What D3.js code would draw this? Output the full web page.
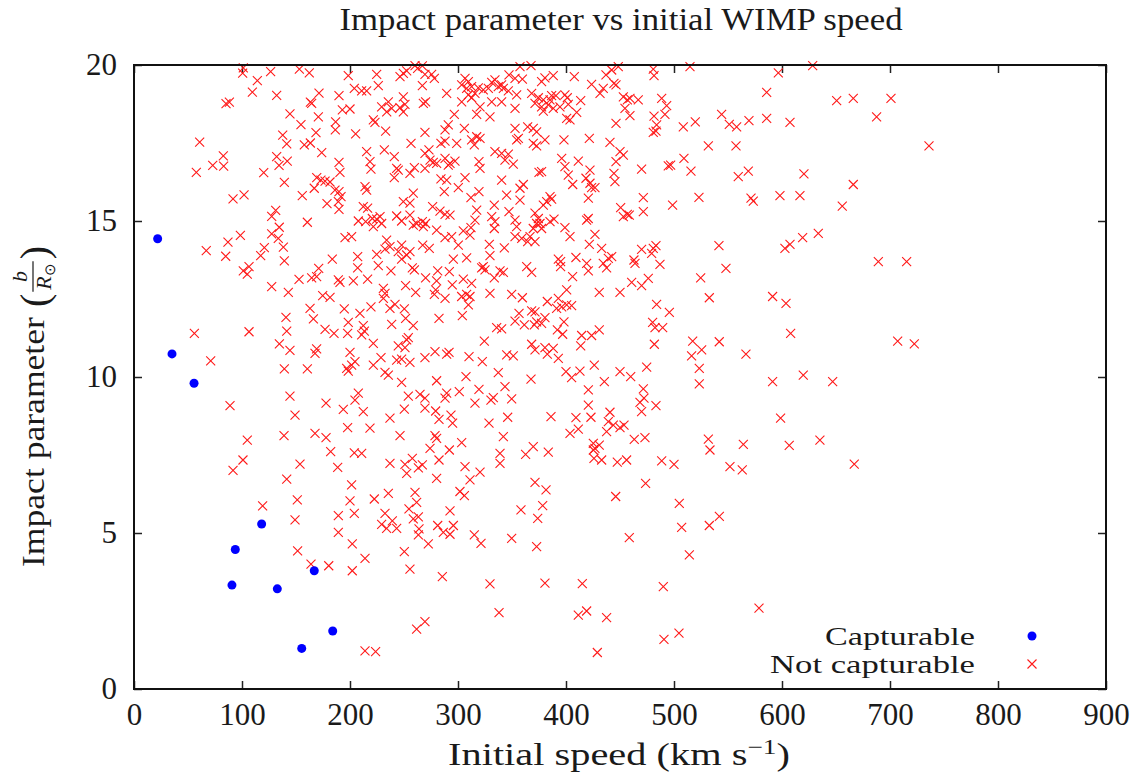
<!DOCTYPE html>
<html>
<head>
<meta charset="utf-8">
<script src="https://cdn.jsdelivr.net/npm/d3@7"></script>
<style>
  body { margin: 0; background: #fff; }
  svg { display: block; }
  text { font-family: "Liberation Serif", "Times New Roman", serif; fill: #1a1a1a; }
</style>
</head>
<body>
<svg id="chart" width="1142" height="778"></svg>
<script>
// ---- data -------------------------------------------------------------
const xTicks = [0, 100, 200, 300, 400, 500, 600, 700, 800, 900];
const yTicks = [0, 5, 10, 15, 20];
const seriesNames = ["Capturable", "Not capturable"];

// captured WIMPs: initial speed (km/s) and impact parameter (b / R_sun)
const capturableSpeed  = [21.9, 35.2, 55.6, 118.2, 93.8, 90.7, 132.7, 166.9, 184.0, 155.3];
const capturableImpact = [14.43, 10.74, 9.80, 5.29, 4.47, 3.33, 3.21, 3.79, 1.86, 1.30];

// escaping WIMPs: [initial speed, impact parameter]
const notCapturable = [
[101.2,19.91],[100.6,19.74],[126.5,19.79],[153.1,19.87],[162.3,19.75],[114.2,19.50],[109.6,19.13],[132.1,19.03],[171.3,19.10],[85.2,18.76],[88.3,18.81],[164.5,18.77],[163.3,18.81],[144.4,18.43],[170.7,18.34],[154.6,18.09],[186.7,18.18],[186.4,17.92],[168.5,17.83],[137.7,17.75],[141.4,17.47],[157.7,17.44],[163.3,17.50],[60.8,17.53],[173.8,17.19],[82.7,17.09],[72.9,16.78],[83.0,16.76],[132.1,17.06],[134.3,16.78],[141.9,16.92],[57.7,16.56],[120.1,16.55],[139.2,16.24],[169.2,16.39],[173.1,16.31],[176.9,16.28],[181.5,16.25],[166.9,16.05],[186.1,15.99],[91.7,15.71],[101.9,15.84],[155.8,15.81],[178.7,15.56],[131.2,15.34],[127.5,15.15],[160.5,14.96],[134.5,14.80],[98.5,14.54],[127.5,14.59],[133.6,14.44],[87.0,14.32],[138.3,14.16],[120.7,14.15],[117.3,13.89],[66.9,14.05],[84.9,13.87],[139.2,13.72],[183.6,13.78],
[260.2,19.98],[267.0,19.97],[262.6,19.89],[198.4,19.66],[224.7,19.70],[246.3,19.63],[249.4,19.73],[252.5,19.81],[275.6,19.70],[278.1,19.57],[269.4,19.70],[306.5,19.57],[309.6,19.47],[331.2,19.44],[334.2,19.52],[347.2,19.68],[352.8,19.57],[357.4,19.95],[367.6,19.98],[359.6,19.55],[204.0,19.25],[210.8,19.17],[215.4,19.17],[226.2,19.34],[267.0,19.34],[289.5,19.09],[303.4,19.36],[308.0,19.25],[312.6,19.31],[318.8,19.27],[323.4,19.20],[328.1,19.25],[309.6,19.04],[312.6,18.95],[315.7,19.09],[337.3,19.31],[342.0,19.25],[346.6,19.17],[354.3,19.04],[340.4,19.36],[368.2,19.09],[374.4,18.95],[189.8,19.02],[249.4,18.98],[235.5,18.82],[229.3,18.66],[234.0,18.50],[238.6,18.61],[246.3,18.63],[249.4,18.50],[250.9,18.74],[267.9,18.77],[270.0,18.82],[192.9,18.56],[200.0,18.59],[303.4,18.82],[320.4,18.66],[317.3,18.42],[329.6,18.34],[331.2,18.82],[340.4,18.82],[352.8,18.61],[371.3,18.77],[296.6,18.42],[221.6,18.24],[223.1,18.16],[291.0,18.08],[288.0,17.92],[305.9,17.97],[205.2,17.79],[233.0,17.88],[269.4,17.84],[352.8,17.97],[364.5,18.02],[369.7,17.97],[372.8,17.86],[256.5,17.49],[284.2,17.49],[288.0,17.56],[298.8,17.49],[312.6,17.60],[317.3,17.70],[320.4,17.65],[315.1,17.44],[354.3,17.60],[355.9,17.65],[369.7,17.49],[372.8,17.41],[215.4,17.22],[231.8,17.28],[241.0,17.06],[269.4,17.17],[273.1,17.28],[274.1,16.95],[277.1,16.88],[280.2,16.85],[288.0,17.01],[292.6,16.85],[297.2,16.92],[291.0,16.79],[319.4,16.90],[320.4,16.69],[334.2,17.22],[340.4,17.17],[346.6,17.14],[343.5,16.95],[351.2,16.82],[189.8,16.88],[218.5,16.90],[219.4,16.66],[243.2,16.69],[244.7,16.63],[241.0,16.39],[259.6,16.71],[255.5,16.53],[269.4,16.69],[375.0,16.56],[190.7,16.56],[284.2,16.35],[289.5,16.31],[306.5,16.39],[300.3,16.07],[340.4,16.31],[360.5,16.17],[357.4,16.05],[213.9,16.10],[215.4,15.99],[258.6,15.89],[287.3,15.94],[312.0,15.75],[319.4,15.94],[189.8,15.94],[191.7,15.78],[189.2,15.62],[212.3,15.46],[216.3,15.41],[249.4,15.62],[255.5,15.57],[189.8,15.37],[276.5,15.46],[283.3,15.32],[288.0,15.21],[292.6,15.19],[317.3,15.35],[333.6,15.51],[345.0,15.83],[357.4,15.67],[347.2,15.30],[331.2,15.14],[334.2,14.98],[333.6,14.76],[352.8,15.03],[354.3,14.82],[371.3,15.25],[374.4,15.08],[372.8,14.92],[369.7,14.76],[207.7,15.00],[214.5,14.98],[220.7,15.08],[224.7,15.06],[227.8,15.14],[229.3,14.92],[221.6,14.82],[243.2,15.16],[247.8,15.00],[258.6,14.87],[261.7,14.92],[267.0,14.98],[270.0,14.92],[267.9,14.82],[280.2,14.71],[255.5,15.19],[315.7,15.03],[312.0,14.79],[304.9,14.68],[311.1,14.55],[195.4,14.47],[201.5,14.50],[294.1,14.50],[288.0,14.47],[300.3,14.23],[352.8,14.50],[359.0,14.44],[366.7,14.50],[364.5,14.34],[233.9,14.39],[237.0,14.18],[244.7,14.02],[247.8,14.23],[252.5,13.91],[255.5,14.02],[267.3,14.23],[273.4,14.12],[329.0,14.25],[342.9,14.14],[371.3,14.34],[207.1,13.86],[224.7,13.93],[232.4,14.10],[247.8,13.78],[295.7,13.78],[308.0,13.82],[329.6,13.89],
[380.5,19.59],[388.2,19.66],[377.4,19.47],[407.7,19.63],[423.7,19.38],[434.5,19.25],[431.5,19.09],[437.0,19.68],[442.3,19.84],[448.4,19.95],[444.4,19.41],[446.3,19.36],[480.8,19.87],[481.5,19.66],[514.8,19.95],[386.7,19.02],[390.7,19.02],[385.2,18.88],[399.0,19.04],[401.2,18.95],[379.0,18.88],[377.4,18.66],[383.6,18.72],[388.2,18.61],[394.4,18.66],[402.1,18.74],[413.6,18.86],[409.9,18.48],[400.6,18.29],[403.7,18.24],[379.0,18.52],[453.1,18.98],[456.8,18.88],[459.2,18.93],[466.9,18.88],[454.6,18.61],[459.2,18.38],[446.3,18.13],[488.6,18.93],[493.2,18.70],[491.6,18.42],[481.5,18.36],[483.9,18.08],[480.8,17.84],[483.3,17.88],[508.6,18.02],[519.7,18.18],[544.1,18.42],[551.2,18.10],[558.0,18.02],[380.5,17.60],[398.1,17.60],[421.6,17.65],[440.7,17.52],[450.0,17.22],[453.1,17.11],[531.8,17.41],[557.4,17.41],[396.0,17.01],[399.0,16.74],[402.1,16.47],[406.2,16.17],[411.4,16.92],[422.2,16.63],[418.5,16.37],[422.2,16.21],[423.7,16.07],[426.8,16.07],[377.4,16.58],[446.3,16.90],[444.4,16.53],[445.3,16.26],[470.0,16.66],[494.7,16.77],[496.9,16.79],[509.2,17.01],[515.7,16.60],[559.5,16.42],[385.2,15.78],[386.7,15.70],[379.0,15.51],[382.1,15.62],[420.7,15.73],[471.6,15.75],[498.7,15.51],[523.1,15.76],[450.6,15.43],[453.1,15.14],[456.8,15.21],[458.6,15.19],[471.6,15.30],[419.1,15.03],[420.6,15.08],[385.2,14.98],[388.9,15.06],[375.9,14.92],[377.4,14.76],[399.0,14.79],[403.7,14.50],[426.8,14.57],[421.6,14.25],[433.0,14.12],[470.0,14.09],[480.8,14.12],[483.3,14.21],[479.3,13.96],[541.6,14.21],[392.9,13.78],[395.0,13.70],[409.2,13.83],[419.1,13.64],[434.5,13.64],[439.2,13.80],[442.3,13.86],[462.9,13.75],[463.9,13.64],[487.0,13.61],
[596.6,19.75],[628.4,19.98],[585.8,19.12],[650.6,18.86],[666.0,18.93],[700.9,18.93],[569.4,18.22],[585.8,18.29],[607.4,18.16],[687.6,18.34],[736.1,17.41],[568.8,16.60],[620.3,16.51],[666.0,16.17],[571.3,15.73],[573.4,15.64],[598.1,15.81],[616.6,15.81],[655.8,15.48],[633.6,14.60],[619.1,14.47],[607.4,14.25],[602.7,14.12],[689.2,13.70],[715.4,13.70],
[101.2,13.40],[104.9,13.30],[106.5,13.54],[127.5,12.90],[142.9,12.71],[152.8,13.13],[164.5,13.18],[169.1,13.22],[171.0,13.48],[174.7,12.61],[181.5,12.55],[163.0,12.20],[140.7,11.91],[166.1,11.86],[176.9,11.53],[185.2,11.40],[55.9,11.40],[106.5,11.45],[141.4,11.47],[134.6,11.06],[144.4,10.85],[169.1,10.90],[167.6,10.76],[71.0,10.52],[139.2,10.26],[160.5,10.26],[144.4,9.39],[177.8,9.16],[88.9,9.08],[149.1,8.78],[104.9,7.98],[138.9,8.12],[167.6,8.19],[177.8,8.06],[182.1,7.61],[153.7,7.21],[100.9,7.34],[91.7,7.01],
[207.1,13.50],[226.2,13.57],[237.9,13.40],[257.7,13.50],[259.6,13.43],[281.2,13.40],[292.0,13.38],[321.9,13.50],[325.0,13.43],[323.4,13.54],[338.9,13.40],[342.0,13.35],[363.6,13.54],[368.2,13.35],[189.2,13.11],[190.7,13.03],[203.1,13.08],[216.3,13.14],[270.0,13.18],[280.2,13.08],[279.3,12.79],[294.7,12.95],[304.9,13.14],[312.6,13.00],[333.6,13.18],[230.9,12.84],[232.4,12.68],[230.9,12.52],[251.5,12.93],[260.8,12.71],[278.1,12.65],[288.0,12.52],[303.4,12.58],[308.0,12.65],[311.1,12.58],[309.6,12.31],[329.6,12.68],[349.7,12.65],[359.6,12.54],[194.7,12.18],[209.2,12.04],[219.4,12.25],[237.0,12.20],[241.7,12.33],[250.3,12.18],[251.5,11.88],[258.6,11.65],[238.6,11.69],[282.4,11.88],[304.0,11.97],[352.8,11.79],[356.5,12.04],[361.4,11.67],[370.7,11.67],[372.8,11.77],[368.2,12.12],[371.3,12.09],[335.8,11.58],[340.4,11.54],[198.4,11.75],[197.8,11.40],[212.3,11.65],[213.3,11.47],[210.8,11.35],[254.0,11.26],[252.5,11.19],[221.6,11.08],[244.7,11.00],[250.9,10.94],[324.4,11.15],[368.2,11.05],[371.3,10.87],[200.0,10.79],[204.6,10.49],[201.5,10.38],[198.4,10.19],[196.9,10.28],[228.7,10.62],[221.6,10.38],[243.2,10.54],[247.8,10.57],[255.5,10.47],[269.4,10.62],[278.7,10.81],[289.5,10.73],[291.7,10.79],[310.2,10.65],[322.5,10.49],[345.1,10.71],[351.2,10.68],[232.4,10.15],[235.5,10.06],[247.8,9.83],[280.2,9.88],[307.4,10.01],[337.3,10.14],[367.6,9.93],[207.7,9.48],[204.6,9.26],[254.0,9.39],[264.8,9.44],[269.4,9.32],[289.5,9.48],[288.0,9.32],[301.2,9.53],[319.4,9.60],[343.5,9.69],[330.5,9.26],[332.7,9.34],[349.7,9.30],[315.7,9.16],[193.8,8.96],[212.3,8.89],[250.3,8.97],[269.4,9.00],[279.3,8.91],[282.4,8.64],[293.5,8.78],[295.0,8.52],[237.0,8.68],[346.0,8.71],[328.7,8.52],[197.8,8.38],[218.5,8.36],[246.3,8.12],[278.7,8.12],[280.2,8.03],[303.4,7.90],[342.0,8.09],[204.0,7.57],[210.8,7.55],[274.1,7.71],[292.0,7.66],[282.4,7.34],[257.7,7.39],[250.9,7.20],[252.5,6.91],[263.3,7.09],[267.0,7.18],[237.0,7.23],[188.6,7.10],[306.5,7.13],[320.4,6.95],[338.9,7.55],[338.9,7.23],[362.6,7.52],[369.7,7.77],
[395.0,13.54],[420.7,13.40],[437.6,13.50],[548.1,13.48],[406.1,13.22],[430.8,12.71],[450.0,12.71],[460.8,13.03],[470.0,12.93],[476.2,13.16],[524.7,13.18],[532.7,12.54],[400.6,12.79],[392.9,12.52],[396.0,12.25],[391.3,12.20],[400.6,12.31],[405.2,12.29],[382.7,12.42],[380.5,11.90],[377.4,11.72],[398.1,11.77],[392.0,11.51],[396.9,11.37],[414.5,11.33],[413.6,11.00],[423.7,11.33],[430.8,11.51],[483.9,12.33],[495.7,12.07],[480.2,11.75],[482.4,11.58],[489.5,11.58],[481.8,11.05],[517.3,11.15],[525.6,10.87],[516.3,10.68],[541.9,11.13],[566.6,10.73],[380.5,10.94],[382.7,10.73],[388.2,10.92],[392.9,10.60],[523.4,10.28],[523.4,9.78],[400.0,10.17],[405.2,9.98],[412.9,10.19],[426.2,10.38],[435.5,9.85],[450.0,10.17],[459.9,10.01],[474.7,10.32],[420.7,9.59],[471.6,9.62],[472.2,9.32],[468.5,9.19],[470.0,8.89],[483.3,9.08],[420.7,9.10],[440.7,8.87],[386.1,8.73],[409.2,8.70],[423.1,8.71],[439.2,8.57],[443.8,8.46],[450.0,8.38],[453.7,8.46],[437.6,8.25],[411.4,8.33],[403.7,8.19],[463.2,8.00],[473.1,8.06],[425.3,7.87],[426.8,7.71],[430.8,7.82],[425.3,7.66],[383.6,7.59],[425.9,7.39],[433.0,7.34],[447.5,7.27],[456.1,7.34],[488.6,7.31],[500.0,7.20],[531.8,8.01],[533.3,7.66],[564.2,7.84],[551.8,7.13],[563.2,7.02],
[591.3,12.58],[603.7,12.36],[608.0,11.40],[707.1,11.15],[722.5,11.06],[591.3,9.85],[619.7,10.06],[646.9,9.85],[598.7,8.68],[606.7,7.81],[635.1,7.98],[666.9,7.21],
[141.4,6.73],[151.2,6.06],[119.1,5.87],[149.1,5.42],[151.5,4.43],[163.9,4.00],[180.3,3.95],
[201.5,6.54],[280.2,6.75],[311.1,6.70],[200.0,6.03],[222.5,6.09],[235.5,6.27],[260.2,6.30],[261.7,5.98],[254.6,5.77],[232.4,5.63],[229.3,5.28],[233.9,5.15],[239.2,5.39],[243.2,5.15],[258.6,5.45],[263.3,5.52],[263.9,5.13],[263.3,4.94],[204.0,5.63],[189.2,5.56],[189.2,5.02],[202.1,4.65],[213.9,4.19],[202.1,3.79],[250.3,4.40],[255.5,3.84],[272.5,4.65],[281.2,5.24],[286.4,5.02],[292.6,4.96],[295.7,5.24],[292.6,5.71],[301.8,6.33],[305.9,6.20],[285.5,3.60],[315.1,4.94],[321.3,4.67],[329.6,3.37],[349.7,4.83],[358.3,5.74],[371.3,6.62],[373.8,5.47],[372.8,4.56],[338.0,2.45],[261.7,1.92],[269.4,2.16],[213.9,1.22],[223.7,1.20],
[381.5,6.38],[378.4,5.88],[380.5,3.39],[446.0,6.17],[473.7,6.59],[504.9,5.95],[507.1,5.18],[532.7,5.24],[542.0,5.53],[458.6,4.85],[514.2,4.30],[415.1,3.38],[490.1,3.28],[411.4,2.37],[419.1,2.50],[437.6,2.29],[490.7,1.59],[504.6,1.79],[429.0,1.17],
[578.7,2.59]
];

// ---- layout -----------------------------------------------------------
const plot = { left: 134, right: 1106, top: 65, bottom: 689 };
const FONT = 31;
const tickLen = 8;

const svg = d3.select("#chart");
const x = d3.scaleLinear().domain([0, 900]).range([plot.left, plot.right]);
const y = d3.scaleLinear().domain([0, 20]).range([plot.bottom, plot.top]);

// text helper: draws at (px,py) and optionally stretches horizontally to a width
function label(parent, px, py, anchor, size, build, width) {
  const g = parent.append("g").attr("transform", `translate(${px},${py})`);
  const t = g.append("text").attr("text-anchor", anchor).style("font-size", size + "px");
  build(t);
  if (width) {
    const w = t.node().getBBox().width;
    t.attr("transform", `scale(${width / w},1)`);
  }
  return g;
}

// ---- axes (gnuplot style: inward ticks mirrored on all sides) ---------
function styleAxis(g) {
  g.select(".domain").remove();
  g.selectAll(".tick line").attr("stroke", "#222").attr("stroke-width", 1.5);
  g.selectAll(".tick text").style("font-size", FONT + "px").attr("fill", "#1a1a1a")
    .style("font-family", '"Liberation Serif", serif');
}

svg.append("g").attr("transform", `translate(0,${plot.bottom})`)
  .call(d3.axisBottom(x).tickValues(xTicks).tickFormat(d3.format("d"))
    .tickSizeInner(-tickLen).tickSizeOuter(0).tickPadding(14))
  .call(styleAxis);

svg.append("g").attr("transform", `translate(0,${plot.top})`)
  .call(d3.axisTop(x).tickValues(xTicks).tickFormat("").tickSizeInner(-tickLen).tickSizeOuter(0))
  .call(styleAxis);

svg.append("g").attr("transform", `translate(${plot.left},0)`)
  .call(d3.axisLeft(y).tickValues(yTicks).tickFormat(d3.format("d"))
    .tickSizeInner(-tickLen).tickSizeOuter(0).tickPadding(17))
  .call(styleAxis);

svg.append("g").attr("transform", `translate(${plot.right},0)`)
  .call(d3.axisRight(y).tickValues(yTicks).tickFormat("").tickSizeInner(-tickLen).tickSizeOuter(0))
  .call(styleAxis);

// ---- points -----------------------------------------------------------
const cross = 4.5;
const crossPath = (cx, cy) =>
  `M${cx - cross},${cy - cross}L${cx + cross},${cy + cross}M${cx - cross},${cy + cross}L${cx + cross},${cy - cross}`;

svg.append("g").attr("stroke", "#ff1a1a").attr("stroke-width", 1.1).attr("fill", "none")
  .selectAll("path").data(notCapturable).join("path")
  .attr("d", d => crossPath(x(d[0]), y(d[1])));

svg.append("g").attr("fill", "#0000ff")
  .selectAll("circle").data(d3.range(capturableSpeed.length)).join("circle")
  .attr("cx", i => x(capturableSpeed[i]))
  .attr("cy", i => y(capturableImpact[i]))
  .attr("r", 4.5);

// ---- border -----------------------------------------------------------
svg.append("rect")
  .attr("x", plot.left).attr("y", plot.top)
  .attr("width", plot.right - plot.left).attr("height", plot.bottom - plot.top)
  .attr("fill", "none").attr("stroke", "#111").attr("stroke-width", 2);

// ---- titles -----------------------------------------------------------
label(svg, 621, 30, "middle", FONT, t => t.text("Impact parameter vs initial WIMP speed"), 564);

label(svg, 619, 765, "middle", FONT, t => {
  t.append("tspan").text("Initial speed (km s");
  t.append("tspan").attr("dy", -11).style("font-size", "21px").text("\u22121");
  t.append("tspan").attr("dy", 11).text(")");
}, 342);

// y label with the b / R_sun fraction, rotated
const yl = svg.append("g").attr("transform", "translate(44,376) rotate(-90)");
const yMain = yl.append("text").attr("text-anchor", "start").style("font-size", FONT + "px")
  .text("Impact parameter");
const wMain = yMain.node().getComputedTextLength();
yMain.attr("transform", `translate(-191,0) scale(${250 / wMain},1)`);
let u = -191 + 250 + 10;
const lp = yl.append("text").attr("x", u).attr("y", 4).style("font-size", "40px").text("(");
u += lp.node().getComputedTextLength() + 2;
const num = yl.append("text").attr("y", -17).style("font-size", "22px")
  .style("font-style", "italic").attr("text-anchor", "middle").text("b");
const den = yl.append("text").attr("y", 7).style("font-size", "22px").attr("text-anchor", "middle");
den.append("tspan").style("font-style", "italic").text("R");
den.append("tspan").attr("dy", 4).style("font-size", "15px").text("\u2299");
const fw = den.node().getComputedTextLength() + 4;
num.attr("x", u + fw / 2);
den.attr("x", u + fw / 2);
yl.append("line").attr("x1", u).attr("x2", u + fw).attr("y1", -11).attr("y2", -11)
  .attr("stroke", "#1a1a1a").attr("stroke-width", 1.2);
u += fw + 2;
yl.append("text").attr("x", u).attr("y", 4).style("font-size", "40px").text(")");

// ---- legend -----------------------------------------------------------
const LEG = 26;
label(svg, 975, 645, "end", LEG, t => t.text(seriesNames[0]), 150);
label(svg, 975, 673, "end", LEG, t => t.text(seriesNames[1]), 205);
svg.append("circle").attr("cx", 1032).attr("cy", 636).attr("r", 4.5).attr("fill", "#0000ff");
svg.append("path").attr("stroke", "#ff1a1a").attr("stroke-width", 1.1).attr("fill", "none")
  .attr("d", crossPath(1032, 664));
</script>
</body>
</html>
